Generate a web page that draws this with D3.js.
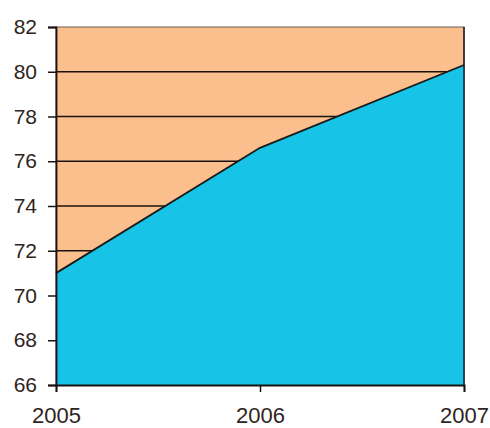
<!DOCTYPE html>
<html lang="en">
<head>
<meta charset="utf-8">
<title>Area chart</title>
<script src="https://cdn.jsdelivr.net/npm/d3@7"></script>
<style>
body { margin: 0; background: #fff; }
svg text { font-family: "Liberation Sans", Arial, sans-serif; fill: #2e2522; }
</style>
</head>
<body>
<script>
var years = [2005, 2006, 2007];
var values = [71.0, 76.6, 80.3];
var yTicks = [66, 68, 70, 72, 74, 76, 78, 80, 82];

var width = 490, height = 428;
var margin = {top: 27, right: 26, bottom: 43, left: 56};
var w = width - margin.left - margin.right,
    h = height - margin.top - margin.bottom;

var svg = d3.select("body").append("svg")
  .attr("width", width)
  .attr("height", height);

var g = svg.append("g")
  .attr("transform", "translate(" + margin.left + "," + margin.top + ")");

var x = d3.scaleLinear().domain([2005, 2007]).range([0, w]);
var y = d3.scaleLinear().domain([66, 82]).range([h, 0]);

// plot background
g.append("rect")
  .attr("width", w).attr("height", h)
  .attr("fill", "#fbbf8d")
  .attr("stroke", "#6b5a52").attr("stroke-width", 1);

// gridlines
g.selectAll(".grid")
  .data(yTicks.filter(function(d) { return d > 66 && d < 82; }))
  .enter().append("line")
  .attr("x1", 0).attr("x2", w)
  .attr("y1", function(d) { return y(d); })
  .attr("y2", function(d) { return y(d); })
  .attr("stroke", "#1a1210").attr("stroke-width", 1.5);

var data = years.map(function(yr, i) { return {year: yr, v: values[i]}; });

g.append("path")
  .datum(data)
  .attr("fill", "#17c3e6")
  .attr("d", d3.area()
    .x(function(d) { return x(d.year); })
    .y0(h)
    .y1(function(d) { return y(d.v); }));

g.append("path")
  .datum(data)
  .attr("fill", "none")
  .attr("stroke", "#1a1a1a")
  .attr("stroke-width", 1.8)
  .attr("d", d3.line()
    .x(function(d) { return x(d.year); })
    .y(function(d) { return y(d.v); }));

// right border on top of area
g.append("line")
  .attr("x1", w).attr("x2", w).attr("y1", 0).attr("y2", h)
  .attr("stroke", "#1a1a2a").attr("stroke-width", 1.5);

// axes
var yAxis = g.append("g")
  .call(d3.axisLeft(y).tickValues(yTicks).tickSize(8).tickPadding(11));
var xAxis = g.append("g")
  .attr("transform", "translate(0," + h + ")")
  .call(d3.axisBottom(x).tickValues(years).tickFormat(d3.format("d")).tickSize(7).tickPadding(15));

[yAxis, xAxis].forEach(function(ax) {
  ax.select(".domain").attr("stroke", "#1a1210").attr("stroke-width", 1.8);
  ax.selectAll(".tick line").attr("stroke", "#1a1210").attr("stroke-width", 1.5);
  ax.selectAll("text").attr("fill", "#2e2522");
});
yAxis.selectAll("text").style("font-size", "21px");
xAxis.selectAll("text").style("font-size", "22px");
</script>
</body>
</html>
